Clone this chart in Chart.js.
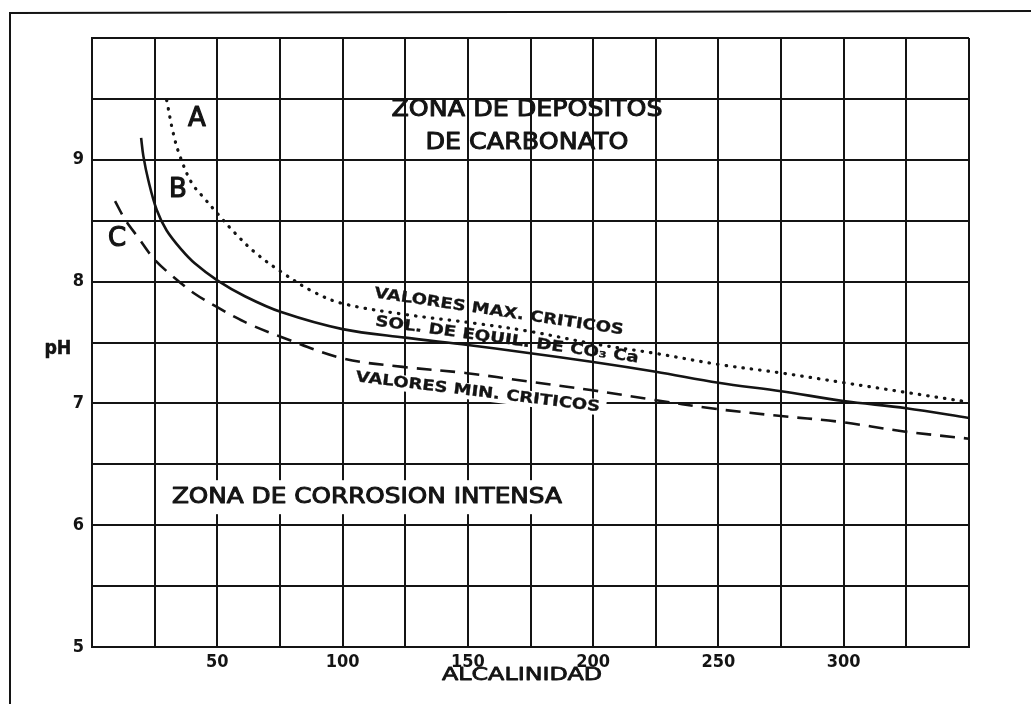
<!DOCTYPE html>
<html>
<head>
<meta charset="utf-8">
<title>pH - alcalinidad</title>
<script src="https://cdn.jsdelivr.net/npm/chart.js@4.4.1/dist/chart.umd.min.js"></script>
<style>
  html, body { margin: 0; padding: 0; background: #fff; }
  canvas { display: block; }
</style>
</head>
<body>
<canvas id="myChart" width="1031" height="704"></canvas>
<script>
// A - valores max. criticos (dotted)
const alcA = [29.8, 32.4, 35.1, 39.8, 45, 50, 57, 65, 75.5, 88, 100, 125, 152, 175, 200, 225, 250, 275, 300, 325, 350]
const phA = [9.49, 9.22, 9.03, 8.81, 8.68, 8.56, 8.40, 8.24, 8.08, 7.92, 7.82, 7.73, 7.66, 7.59, 7.49, 7.41, 7.32, 7.25, 7.17, 7.09, 7.01]

// B - sol. de equil. de CO3 Ca (solid)
const alcB = [19.6, 20.5, 22.5, 25.8, 29.8, 35.8, 41, 50, 61, 75.5, 100, 125, 150, 172, 200, 225, 250, 275, 300, 325, 350]
const phB = [9.18, 9.03, 8.83, 8.59, 8.42, 8.26, 8.15, 8.01, 7.88, 7.75, 7.61, 7.54, 7.48, 7.42, 7.34, 7.26, 7.17, 7.10, 7.02, 6.96, 6.88]

// C - valores min. criticos (dashed)
const alcC = [9.2, 13.2, 18.5, 25, 33, 41, 50, 57, 64, 75, 100, 124, 149, 174, 199, 224, 247, 273, 298, 324, 350]
const phC = [8.66, 8.51, 8.36, 8.18, 8.03, 7.90, 7.79, 7.71, 7.64, 7.55, 7.37, 7.30, 7.25, 7.18, 7.11, 7.03, 6.96, 6.90, 6.85, 6.77, 6.71]

// labelled ticks
const xLabels = [50, 100, 150, 200, 250, 300]
const yLabels = [5, 6, 7, 8, 9]

const ink = '#141414'

function pts(xs, ys) {
    return xs.map((x, i) => ({ x: x, y: ys[i] }))
}

// texts on the chart, anchored in data units
const notes = [
    { text: 'ZONA DE DEPOSITOS', x: 173.6, y: 9.41, font: '23px "DejaVu Sans"', width: 271, thick: 1 },
    { text: 'DE CARBONATO', x: 173.6, y: 9.14, font: '23px "DejaVu Sans"', width: 203, thick: 1 },
    { text: 'A', x: 41.9, y: 9.33, font: '26px "DejaVu Sans"', thick: 1.2 },
    { text: 'B', x: 34.3, y: 8.75, font: '26px "DejaVu Sans"', thick: 1.2 },
    { text: 'C', x: 10, y: 8.35, font: '26px "DejaVu Sans"', thick: 1.2 },
    { text: 'VALORES MAX. CRITICOS', x: 162.4, y: 7.75, font: 'bold 15px "DejaVu Sans"', width: 252, angle: 8.5, thick: 0.3 },
    { text: 'SOL. DE EQUIL. DE CO₃ Ca', x: 165.6, y: 7.52, font: 'bold 15px "DejaVu Sans"', width: 266, angle: 8, thick: 0.3 },
    { text: 'VALORES MIN. CRITICOS', x: 154, y: 7.09, font: 'bold 15px "DejaVu Sans"', width: 246, angle: 7, knock: 16, thick: 0.3 },
    { text: 'ZONA DE CORROSION INTENSA', x: 109.7, y: 6.23, font: '21px "DejaVu Sans"', width: 390, knock: 34, thick: 1 },
    { text: 'ALCALINIDAD', x: 171.6, y: 4.77, font: '18px "DejaVu Sans"', width: 160, thick: 0.8 },
    { text: 'pH', x: -13.6, y: 7.45, font: 'bold 20px "DejaVu Sans Condensed", "DejaVu Sans"', width: 27, thick: 0.5 }
]

function drawNote(chart, n, knock) {
    const ctx = chart.ctx
    const px = chart.scales.x.getPixelForValue(n.x)
    const py = chart.scales.y.getPixelForValue(n.y)
    ctx.save()
    ctx.translate(px, py)
    ctx.rotate((n.angle || 0) * Math.PI / 180)
    ctx.font = n.font
    const w = ctx.measureText(n.text).width
    const tw = n.width || w
    if (knock) {
        ctx.fillStyle = '#fff'
        ctx.fillRect(-tw / 2 - 6, -n.knock / 2, tw + 12, n.knock)
    } else {
        ctx.scale(tw / w, 1)
        ctx.fillStyle = ink
        ctx.strokeStyle = ink
        ctx.lineWidth = n.thick || 0
        ctx.lineJoin = 'round'
        ctx.textAlign = 'center'
        ctx.textBaseline = 'middle'
        ctx.fillText(n.text, 0, 0)
        if (n.thick) ctx.strokeText(n.text, 0, 0)
    }
    ctx.restore()
}

const notesPlugin = {
    id: 'notes',
    beforeDraw(chart) {
        // outer frame of the figure
        const ctx = chart.ctx
        ctx.save()
        ctx.strokeStyle = ink
        ctx.lineWidth = 2
        ctx.beginPath()
        ctx.moveTo(10, 704)
        ctx.lineTo(10, 13)
        ctx.lineTo(1031, 11)
        ctx.stroke()
        ctx.restore()
    },
    beforeDatasetsDraw(chart) {
        notes.forEach(n => { if (n.knock) drawNote(chart, n, true) })
    },
    afterDatasetsDraw(chart) {
        notes.forEach(n => drawNote(chart, n, false))
    }
}

const tickFont = { family: '"DejaVu Sans Condensed", "DejaVu Sans", sans-serif', size: 18, weight: 'bold' }

new Chart('myChart', {
    type: 'scatter',
    data: {
        datasets: [{
            label: 'A',
            data: pts(alcA, phA),
            showLine: true,
            borderColor: ink,
            borderWidth: 3.2,
            borderDash: [0.5, 8],
            borderCapStyle: 'round',
            pointRadius: 0,
            tension: 0.35
        }, {
            label: 'B',
            data: pts(alcB, phB),
            showLine: true,
            borderColor: ink,
            borderWidth: 2.6,
            pointRadius: 0,
            tension: 0.35
        }, {
            label: 'C',
            data: pts(alcC, phC),
            showLine: true,
            borderColor: ink,
            borderWidth: 2.6,
            borderDash: [15, 9],
            pointRadius: 0,
            tension: 0.35
        }]
    },
    options: {
        responsive: false,
        animation: false,
        devicePixelRatio: 1,
        layout: { padding: { left: 0, right: 62, top: 38, bottom: 0 } },
        plugins: {
            legend: { display: false },
            tooltip: { enabled: false }
        },
        scales: {
            x: {
                type: 'linear',
                min: 0,
                max: 350,
                afterFit: s => { s.height = 57 },
                ticks: {
                    stepSize: 25,
                    autoSkip: false,
                    maxRotation: 0,
                    padding: 5,
                    color: ink,
                    font: tickFont,
                    callback: v => xLabels.includes(v) ? String(v) : ''
                },
                grid: { color: ink, lineWidth: 2, drawTicks: false },
                border: { color: ink, width: 2 }
            },
            y: {
                min: 5,
                max: 10,
                afterFit: s => { s.width = 92 },
                ticks: {
                    stepSize: 0.5,
                    autoSkip: false,
                    padding: 8,
                    color: ink,
                    font: tickFont,
                    callback: v => yLabels.includes(v) ? String(v) : ''
                },
                grid: { color: ink, lineWidth: 2, drawTicks: false },
                border: { color: ink, width: 2 }
            }
        }
    },
    plugins: [notesPlugin]
})
</script>
</body>
</html>
